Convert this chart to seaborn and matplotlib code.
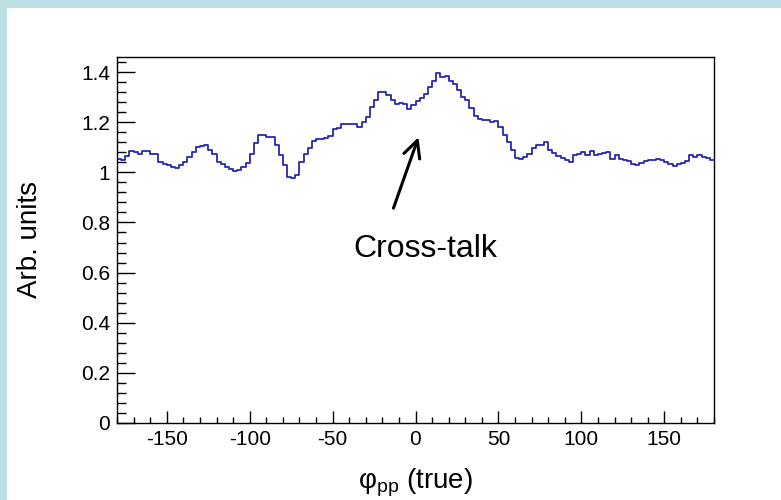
import numpy as np
import pandas as pd
import matplotlib
matplotlib.use("Agg")
import matplotlib.pyplot as plt
from matplotlib.patches import Rectangle
from matplotlib.ticker import MultipleLocator, FuncFormatter
import seaborn as sns

# Histogram binning of phi_pp (true): 144 bins of 2.5 degrees over [-180, 180]
bin_width = 2.5
bin_centers = np.arange(-180 + bin_width / 2, 180, bin_width)

# Bin contents (arbitrary units)
counts = [
    1.055, 1.050, 1.065, 1.087, 1.080, 1.074, 1.087, 1.085, 1.072, 1.072,
    1.040, 1.035, 1.030, 1.022, 1.017, 1.028, 1.042, 1.060, 1.082, 1.100,
    1.105, 1.110, 1.088, 1.072, 1.041, 1.033, 1.022, 1.013, 1.005, 1.010,
    1.020, 1.038, 1.075, 1.115, 1.147, 1.147, 1.140, 1.140, 1.110, 1.070,
    1.030, 0.980, 0.978, 0.990, 1.040, 1.075, 1.098, 1.125, 1.134, 1.131,
    1.138, 1.145, 1.172, 1.176, 1.193, 1.193, 1.193, 1.193, 1.182, 1.200,
    1.220, 1.260, 1.290, 1.320, 1.322, 1.310, 1.290, 1.274, 1.278, 1.274,
    1.254, 1.267, 1.285, 1.296, 1.313, 1.340, 1.366, 1.397, 1.380, 1.386,
    1.364, 1.352, 1.330, 1.300, 1.290, 1.255, 1.225, 1.213, 1.207, 1.208,
    1.200, 1.205, 1.180, 1.150, 1.120, 1.090, 1.056, 1.054, 1.062, 1.075,
    1.097, 1.110, 1.110, 1.122, 1.090, 1.077, 1.066, 1.056, 1.050, 1.041,
    1.068, 1.072, 1.080, 1.068, 1.085, 1.068, 1.072, 1.078, 1.081, 1.054,
    1.068, 1.054, 1.050, 1.045, 1.034, 1.028, 1.037, 1.045, 1.048, 1.050,
    1.054, 1.048, 1.040, 1.032, 1.024, 1.032, 1.038, 1.045, 1.068, 1.061,
    1.068, 1.062, 1.058, 1.048,
]

x_ticks = [-150, -100, -50, 0, 50, 100, 150]
y_ticks = [0, 0.2, 0.4, 0.6, 0.8, 1.0, 1.2, 1.4]

df = pd.DataFrame({"phi": bin_centers, "w": counts})

sns.set_theme(style="white")
plt.rcParams["font.family"] = ["Liberation Sans", "DejaVu Sans"]
plt.rcParams["mathtext.fontset"] = "custom"
plt.rcParams["mathtext.rm"] = "Liberation Sans"
plt.rcParams["mathtext.it"] = "Liberation Sans"
plt.rcParams["axes.unicode_minus"] = False
plt.rcParams["text.color"] = "black"
plt.rcParams["axes.labelcolor"] = "black"

fig = plt.figure(figsize=(7.81, 5.00), dpi=100)
fig.patch.set_facecolor("#BBE0E3")
# white page area inside the light-blue frame
fig.patches.append(Rectangle((7 / 781, 0), 1 - 7 / 781, 1 - 8 / 500,
                             transform=fig.transFigure, facecolor="white",
                             edgecolor="none", zorder=-1))

ax = fig.add_axes([117 / 781, 1 - 423 / 500, (714 - 117) / 781, (423 - 57) / 500])
ax.set_facecolor("white")

sns.histplot(data=df, x="phi", weights="w", binwidth=bin_width,
             binrange=(-180, 180), element="step", fill=False,
             color="#2828b4", linewidth=1.3, ax=ax)

ax.set_xlim(-180, 180)
ax.set_ylim(0, 1.46)

ax.set_xticks(x_ticks)
ax.set_yticks(y_ticks)
ax.xaxis.set_minor_locator(MultipleLocator(10))
ax.yaxis.set_minor_locator(MultipleLocator(0.04))
ax.yaxis.set_major_formatter(FuncFormatter(lambda v, p: f"{v:g}"))

ax.tick_params(axis="both", which="both", direction="in", colors="black",
               labelcolor="black", labelsize=15, width=1.0, top=False,
               right=False, left=True, bottom=True)
ax.tick_params(axis="x", which="major", length=9, pad=5)
ax.tick_params(axis="x", which="minor", length=4.5)
ax.tick_params(axis="y", which="major", length=13, pad=5)
ax.tick_params(axis="y", which="minor", length=6.5)

for s in ax.spines.values():
    s.set_color("black")
    s.set_linewidth(1.0)
    s.set_visible(True)

ax.set_xlabel(r"φ$_{\mathregular{pp}}$ (true)", fontsize=20, labelpad=13,
              color="black")
ax.set_ylabel("Arb. units", fontsize=20, labelpad=27, color="black")

# annotation marking the cross-talk feature
ax.annotate("", xy=(1.8, 1.14), xytext=(-13.3, 0.857),
            arrowprops=dict(arrowstyle="->,head_length=1.0,head_width=0.5",
                            color="black", lw=2.2, shrinkA=0, shrinkB=0))
ax.text(6, 0.695, "Cross-talk", fontsize=23, ha="center", va="center",
        color="black")

fig.savefig("out.png", dpi=100, facecolor=fig.get_facecolor())
